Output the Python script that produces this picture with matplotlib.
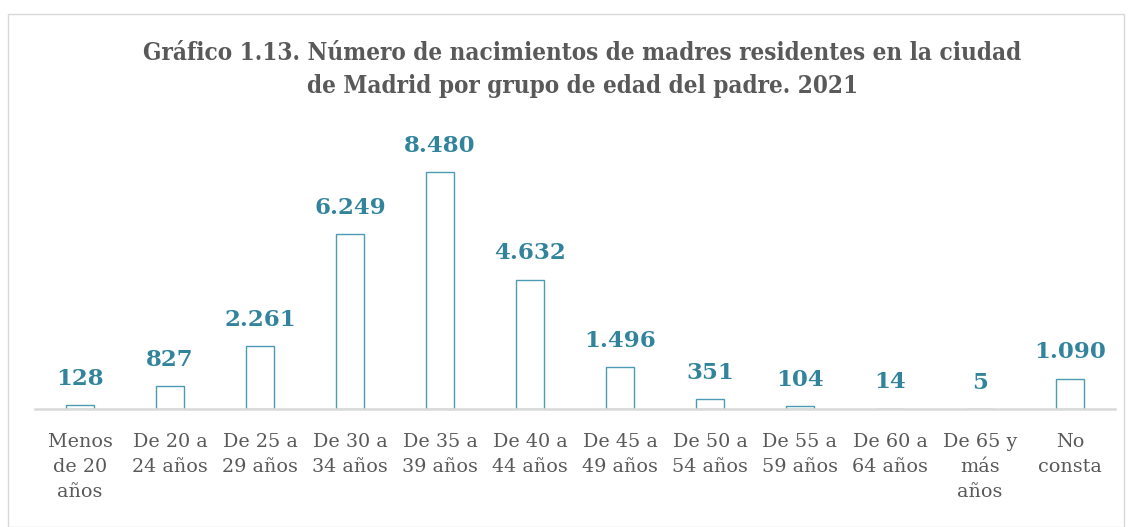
import matplotlib
matplotlib.use("Agg")
import matplotlib.pyplot as plt
from matplotlib.patches import Rectangle

# data
categories = ["Menos\nde 20\naños", "De 20 a\n24 años", "De 25 a\n29 años", "De 30 a\n34 años",
              "De 35 a\n39 años", "De 40 a\n44 años", "De 45 a\n49 años", "De 50 a\n54 años",
              "De 55 a\n59 años", "De 60 a\n64 años", "De 65 y\nmás\naños", "No\nconsta"]
values = [128, 827, 2261, 6249, 8480, 4632, 1496, 351, 104, 14, 5, 1090]
value_labels = ["128", "827", "2.261", "6.249", "8.480", "4.632", "1.496", "351", "104", "14", "5", "1.090"]
title = ("Gráfico 1.13. Número de nacimientos de madres residentes en la ciudad\n"
         "de Madrid por grupo de edad del padre. 2021")

serif = ["DejaVu Serif", "Liberation Serif"]
teal = "#31849B"
grey_text = "#595959"

fig = plt.figure(figsize=(11.31, 5.27), dpi=100)
fig.patches.append(Rectangle((8 / 1131, 0.0), 1116 / 1131, 1 - 14 / 527, transform=fig.transFigure,
                             fill=False, edgecolor="#D9D9D9", lw=1))

ax = fig.add_axes([35 / 1131, 118 / 527, 1080 / 1131, 279.5 / 527])
x = range(len(values))
ax.bar(x, values, width=0.32, color="white", edgecolor="#4A9BB3", linewidth=1.0, zorder=2)
for xi, v, lab in zip(x, values, value_labels):
    ax.annotate(lab, (xi, v), xytext=(0, 11), textcoords="offset points", ha="center", va="bottom",
                fontsize=16.5, fontweight="heavy", color=teal, family=serif)

ax.set_xlim(-0.5, len(values) - 0.5)
ax.set_ylim(0, 10000)
ax.set_xticks(list(x))
ax.set_xticklabels(categories, fontsize=13.8, color=grey_text, family=serif, linespacing=1.52)
ax.tick_params(axis="x", length=0, pad=17)
ax.set_yticks([])
for s in ["top", "right", "left"]:
    ax.spines[s].set_visible(False)
ax.spines["bottom"].set_color("#D9D9D9")
ax.spines["bottom"].set_linewidth(1.8)

fig.text(0.515, 1 - 41 / 527, title, ha="center", va="top", fontsize=17.4, fontweight="bold",
         color=grey_text, family=serif, fontstretch="condensed", linespacing=1.45)

fig.savefig("out.png", dpi=100)
